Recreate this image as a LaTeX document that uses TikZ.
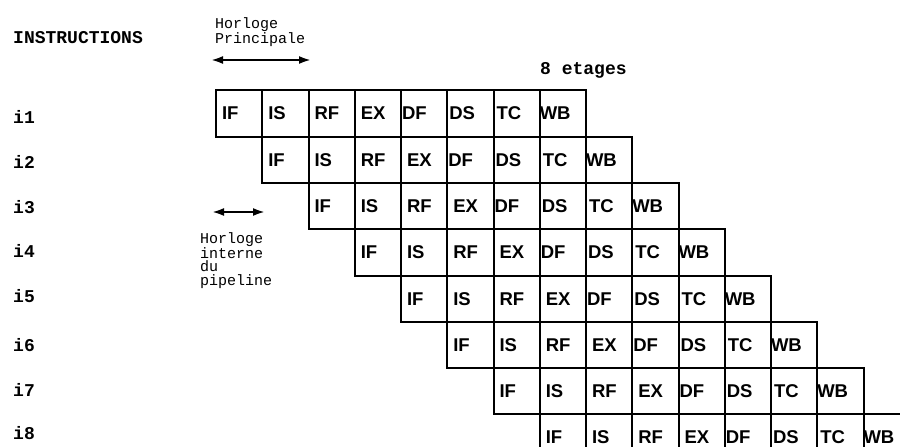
\documentclass[tikz,border=0pt]{standalone}
\usepackage{fontspec}
\setmainfont{Liberation Sans}
\newfontfamily\monofam{Liberation Mono}
\usetikzlibrary{arrows.meta}
\begin{document}
\begin{tikzpicture}[x=1pt,y=-1pt,
  stagebox/.style={draw, line width=2pt, anchor=north west, inner xsep=0pt, inner ysep=0pt,
    text width=46.25pt, minimum height=46.3pt, align=left, font=\bfseries\fontsize{18.5}{20}\selectfont},
  rowlabel/.style={anchor=west, inner sep=0pt, font=\monofam\bfseries\fontsize{18}{20}\selectfont},
  note/.style={anchor=north west, align=left, inner sep=0pt, font=\monofam\fontsize{15}{13.5}\selectfont},
  clockarrow/.style={line width=2.2pt, {Latex[length=12pt,width=8pt]}-{Latex[length=12pt,width=8pt]}}]
\useasboundingbox (0,0) rectangle (900,447);
\fill[white] (0,0) rectangle (900,447);
\clip (0,0) rectangle (900,447);
% titles
\node[rowlabel] (title) at (13,37.5) {INSTRUCTIONS};
\node[rowlabel] (etages) at (540,70) {8 etages};
\node[note] (hprinc) at (215,17) {Horloge\\Principale};
\node[note] (hint) at (200,232) {Horloge\\interne\\du\\pipeline};
% clock arrows
\coordinate (hpL) at (211,60);
\coordinate (hpR) at (311,60);
\coordinate (hiL) at (212,212);
\coordinate (hiR) at (265,212);
\draw[clockarrow] (hpL) -- (hpR);
\draw[clockarrow] (hiL) -- (hiR);
% instruction labels
\foreach \ly [count=\n from 1] in {117,162,207.5,251,296,345,390,433} {
  \node[rowlabel] (lab\n) at (13,\ly) {i\n};
}
% pipeline rows
\foreach \r [count=\n from 1] in {0,...,7} {
  \foreach \lab/\ins [count=\c from 0] in {IF/6,IS/6,RF/6,EX/6,DF/1,DS/2,TC/3,WB/0} {
    \node[stagebox] (s\n-\c) at ({215+(\r+\c)*46.25},{89.3+\r*46.3}) {\hspace*{\ins pt}\lab};
  }
}
\end{tikzpicture}
\end{document}
